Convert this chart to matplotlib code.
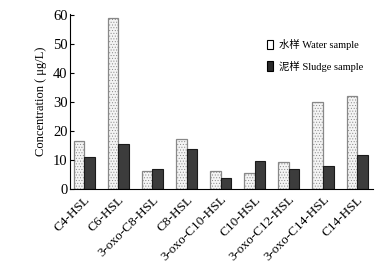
import numpy as np
import matplotlib.pyplot as plt
from matplotlib.patches import Patch

plt.rcParams['font.family'] = ['Liberation Serif', 'Noto Sans CJK SC']
plt.rcParams['hatch.linewidth'] = 0.4

compounds = ["C4-HSL", "C6-HSL", "3-oxo-C8-HSL", "C8-HSL", "3-oxo-C10-HSL",
             "C10-HSL", "3-oxo-C12-HSL", "3-oxo-C14-HSL", "C14-HSL"]
water = [16.7, 58.9, 6.3, 17.2, 6.5, 5.8, 9.4, 30.0, 32.1]
sludge = [11.3, 15.7, 6.9, 13.8, 3.8, 9.6, 7.0, 8.1, 12.0]

x = np.arange(len(compounds))
w = 0.31

fig = plt.figure(figsize=(3.92, 2.65), dpi=100)
ax = fig.add_axes([0.179, 0.285, 0.773, 0.662])

ax.bar(x - w/2, water, w, facecolor="#f4f4f4", edgecolor="#888888",
       hatch="......", linewidth=0.9)
ax.bar(x + w/2, sludge, w, facecolor="#3c3c3c", edgecolor="#1a1a1a",
       linewidth=0.8)

ax.set_xlim(-0.41, 8.47)
ax.set_ylim(0, 60.2)
ax.set_yticks([0, 10, 20, 30, 40, 50, 60])
ax.set_xticks(x)
ax.set_xticklabels(compounds, rotation=45, ha="right", rotation_mode="anchor",
                   fontsize=9.5)
ax.tick_params(axis="y", direction="in", length=3, labelsize=10.5, pad=2)
ax.tick_params(axis="x", length=0, pad=3)
ax.spines["top"].set_visible(False)
ax.spines["right"].set_visible(False)
ax.set_ylabel("Concentration ( μg/L)", fontsize=9, labelpad=4)

handles = [Patch(facecolor="white", edgecolor="black", linewidth=0.8),
           Patch(facecolor="#2a2a2a", edgecolor="black", linewidth=0.8)]
ax.legend(handles, ["水样 Water sample", "泥样 Sludge sample"], frameon=False,
          fontsize=7.5, loc="upper left", bbox_to_anchor=(0.62, 0.91),
          handlelength=0.5, handleheight=1.0, handletextpad=0.6,
          labelspacing=1.0)

fig.savefig("out.png", dpi=100)
